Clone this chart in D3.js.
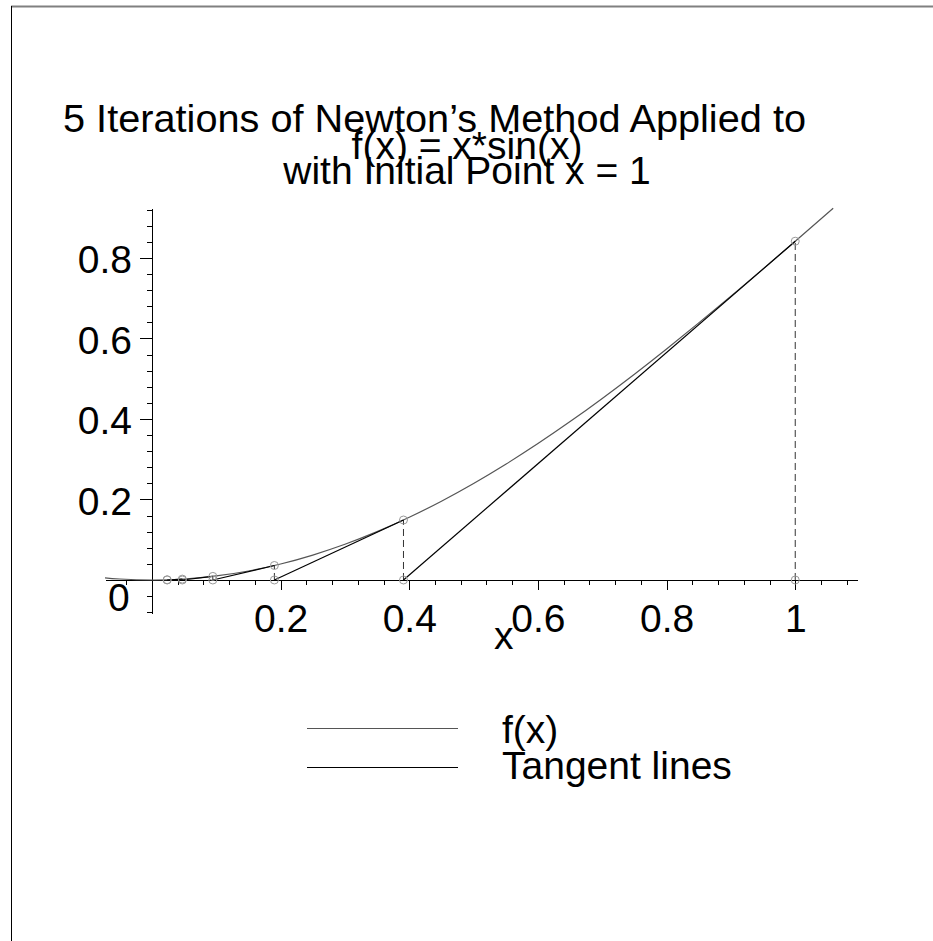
<!DOCTYPE html>
<html>
<head>
<meta charset="utf-8">
<script src="https://cdn.jsdelivr.net/npm/d3@7"></script>
<style>
  body { margin: 0; background: #fff; }
  text { font-family: "Liberation Sans", Arial, Helvetica, sans-serif; }
</style>
</head>
<body>
<div id="chart"></div>
<script>
// title lines
const titleLines = [
  "5 Iterations of Newton\u2019s Method Applied to",
  "f(x) = x*sin(x)",
  "with Initial Point x = 1",
];

const curveX = [-0.073, -0.05, 0, 0.05, 0.1, 0.15, 0.2, 0.25, 0.3, 0.35, 0.4, 0.45,
  0.5, 0.55, 0.6, 0.65, 0.7, 0.75, 0.8, 0.85, 0.9, 0.95, 1.0, 1.059];
const curveY = [0.0053, 0.0025, 0, 0.0025, 0.0100, 0.0224, 0.0397, 0.0619, 0.0887,
  0.1200, 0.1558, 0.1957, 0.2397, 0.2875, 0.3388, 0.3934, 0.4510, 0.5112, 0.5739,
  0.6386, 0.7050, 0.7727, 0.8415, 0.9233];

// Newton iterates x_k and f(x_k)
const iterX = [1, 0.391, 0.1903, 0.0946, 0.0472, 0.0236];
const iterY = [0.8415, 0.1490, 0.0360, 0.0089, 0.0022, 0.0006];

const xTicks = [0.2, 0.4, 0.6, 0.8, 1];
const yTicks = [0.2, 0.4, 0.6, 0.8];
const legendLabels = ["f(x)", "Tangent lines"];

const width = 933, height = 941;
const curveColor = "#555";
const tangentColor = "#000";
const pointColor = "#999";

const svg = d3.select("#chart").append("svg")
  .attr("width", width)
  .attr("height", height);

// frame
svg.append("line")
  .attr("x1", 11).attr("x2", width).attr("y1", 6.5).attr("y2", 6.5)
  .attr("stroke", "#808080").attr("stroke-width", 2);
svg.append("line")
  .attr("x1", 11.5).attr("x2", 11.5).attr("y1", 6).attr("y2", height)
  .attr("stroke", "#000").attr("stroke-width", 1);

const x = d3.scaleLinear().domain([-0.073, 1.096]).range([105, 857]);
const y = d3.scaleLinear().domain([-0.082, 0.924]).range([613, 208]);

// title
const titleX = [434.5, 467, 467];
const titleY = [132, 159, 184];
const title = svg.append("g").selectAll("text")
  .data(titleLines)
  .join("text")
  .attr("x", (d, i) => titleX[i])
  .attr("y", (d, i) => titleY[i])
  .attr("text-anchor", "middle")
  .style("font-size", "39px")
  .attr("fill", "#000")
  .text((d) => d);
title.filter((d, i) => i === 0)
  .attr("textLength", 743)
  .attr("lengthAdjust", "spacingAndGlyphs");

// minor ticks
const xMinor = d3.range(-0.04, 1.09, 0.04).filter((v) => Math.abs(v) > 1e-6 && !xTicks.some((t) => Math.abs(t - v) < 1e-6));
const yMinor = d3.range(-0.08, 0.93, 0.04).filter((v) => Math.abs(v) > 1e-6 && !yTicks.some((t) => Math.abs(t - v) < 1e-6));

const xAxisG = svg.append("g").attr("transform", `translate(0,${y(0)})`);
xAxisG.append("g")
  .call(d3.axisBottom(x).tickValues(xMinor).tickSize(5).tickSizeOuter(0).tickFormat(""));
xAxisG.append("g")
  .call(d3.axisBottom(x).tickValues(xTicks).tickSize(10).tickSizeOuter(0).tickFormat(d3.format("~g")));
xAxisG.selectAll("text")
  .attr("y", 52).attr("dy", null)
  .style("font-size", "39px")
  .attr("fill", "#000");

const yAxisG = svg.append("g").attr("transform", `translate(${x(0)},0)`);
yAxisG.append("g")
  .call(d3.axisLeft(y).tickValues(yMinor).tickSize(5).tickSizeOuter(0).tickFormat(""));
yAxisG.append("g")
  .call(d3.axisLeft(y).tickValues(yTicks).tickSize(12).tickSizeOuter(0).tickFormat(d3.format("~g")));
yAxisG.selectAll("text")
  .attr("x", -20).attr("dy", "0.38em")
  .style("font-size", "39px")
  .attr("fill", "#000");

svg.selectAll(".domain, .tick line")
  .attr("stroke", "#000")
  .attr("stroke-width", 1)
  .attr("shape-rendering", "crispEdges");

// origin label
svg.append("text")
  .attr("x", x(0) - 33).attr("y", y(0) + 31)
  .attr("text-anchor", "middle")
  .style("font-size", "39px")
  .text("0");

// axis title
svg.append("text")
  .attr("x", x(0.547)).attr("y", y(0) + 69)
  .attr("text-anchor", "middle")
  .style("font-size", "39px")
  .text("x");

// curve
const curvePts = curveX.map((v, i) => [v, curveY[i]]);
svg.append("path")
  .datum(curvePts)
  .attr("fill", "none")
  .attr("stroke", curveColor)
  .attr("stroke-width", 1.2)
  .attr("d", d3.line().x((d) => x(d[0])).y((d) => y(d[1])).curve(d3.curveNatural));

// dashed verticals
svg.append("g").selectAll("line")
  .data(iterX.slice(0, 5))
  .join("line")
  .attr("x1", (d) => x(d)).attr("x2", (d) => x(d))
  .attr("y1", y(0)).attr("y2", (d, i) => y(iterY[i]))
  .attr("stroke", "#333")
  .attr("stroke-dasharray", "7,4");

// tangent segments
const tangents = iterX.slice(0, 5).map((v, i) => [[v, iterY[i]], [iterX[i + 1], 0]]);
svg.append("g").selectAll("line")
  .data(tangents)
  .join("line")
  .attr("x1", (d) => x(d[0][0])).attr("y1", (d) => y(d[0][1]))
  .attr("x2", (d) => x(d[1][0])).attr("y2", (d) => y(d[1][1]))
  .attr("stroke", tangentColor)
  .attr("stroke-width", 1.2);

// iterate markers
const marks = iterX.flatMap((v, i) => [[v, 0], [v, iterY[i]]]);
svg.append("g").selectAll("circle")
  .data(marks)
  .join("circle")
  .attr("cx", (d) => x(d[0]))
  .attr("cy", (d) => y(d[1]))
  .attr("r", 4)
  .attr("fill", "none")
  .attr("stroke", pointColor)
  .attr("stroke-width", 1);

// legend
const legendColors = [curveColor, tangentColor];
const legendLineY = [728, 767];
const legendTextY = [743, 779];
const legend = svg.append("g");
legend.selectAll("line")
  .data(legendLabels)
  .join("line")
  .attr("x1", 307).attr("x2", 458)
  .attr("y1", (d, i) => legendLineY[i]).attr("y2", (d, i) => legendLineY[i])
  .attr("stroke", (d, i) => legendColors[i])
  .attr("stroke-width", 1)
  .attr("shape-rendering", "crispEdges");
legend.selectAll("text")
  .data(legendLabels)
  .join("text")
  .attr("x", 502)
  .attr("y", (d, i) => legendTextY[i])
  .style("font-size", "39px")
  .text((d) => d);
</script>
</body>
</html>
